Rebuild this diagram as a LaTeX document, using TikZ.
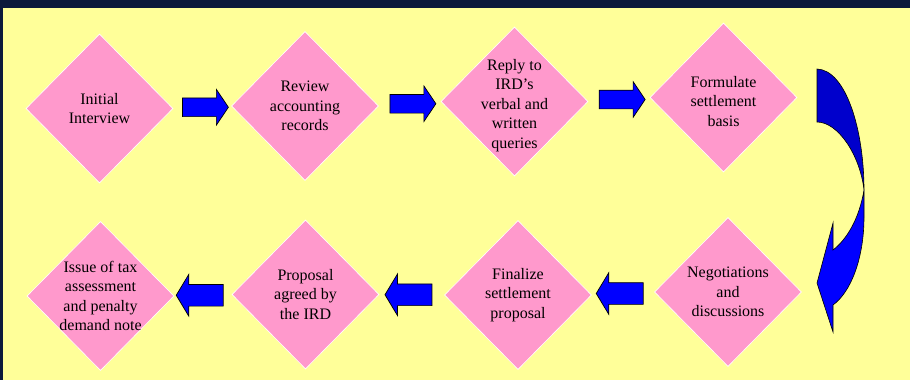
\documentclass[tikz,border=0pt]{standalone}
\usepackage{fontspec}
\setmainfont{Liberation Serif}
\usetikzlibrary{calc,shapes.geometric,shapes.arrows}
\definecolor{pagenavy}{HTML}{0C1A3B}
\definecolor{slideyellow}{HTML}{FFFF99}
\definecolor{stagepink}{HTML}{FF99CC}
\definecolor{flowblue}{HTML}{0000FF}
\definecolor{flowdark}{HTML}{0000CC}
\tikzset{
  stage/.style={diamond, fill=stagepink, draw=white, line width=0.6pt, inner sep=0pt, minimum width=147pt, minimum height=149pt},
  stagetext/.style={align=center, font=\fontsize{16}{19.5}\selectfont, text=black},
  fwdarrow/.style={single arrow, fill=flowblue, draw=black, line width=0.7pt, inner xsep=0pt, inner ysep=9pt, minimum height=46pt, single arrow head extend=8.5pt, single arrow tip angle=112},
  backarrow/.style={fwdarrow, shape border rotate=180, inner ysep=10.5pt, minimum height=47pt, single arrow head extend=10pt, single arrow tip angle=118}
}

\begin{document}
\begin{tikzpicture}[x=1pt,y=-1pt]
                      \useasboundingbox (0,0) rectangle (910,380);
                      \fill[pagenavy] (0,0) rectangle (910,380);
                      \fill[slideyellow] (3,8) rectangle (910,380);
                      \node[stage, label={[stagetext]center:{Initial\\Interview}}] (interview) at (99.5,108.5) {};
                      \node[stage, label={[stagetext]center:{Review\\accounting\\records}}] (review) at (305,106) {};
                      \node[stage, label={[stagetext, yshift=-4pt]center:{Reply to\\IRD’s\\verbal and\\written\\queries}}] (reply) at (514.5,101.5) {};
                      \node[stage, label={[stagetext, yshift=-4pt]center:{Formulate\\settlement\\basis}}] (formulate) at (723.5,97.5) {};
                      \node[stage, label={[stagetext]center:{Negotiations\\and\\discussions}}] (negotiate) at (728,292) {};
                      \node[stage, label={[stagetext]center:{Finalize\\settlement\\proposal}}] (finalize) at (518,295) {};
                      \node[stage, label={[stagetext]center:{Proposal\\agreed by\\the IRD}}] (agreed) at (305.5,294.5) {};
                      \node[stage, label={[stagetext]center:{Issue of tax\\assessment\\and penalty\\demand note}}] (issue) at (100.5,296) {};
                      \node[fwdarrow] (a1) at ($(interview.east)!0.5!(review.west)$) {};
                      \node[fwdarrow] (a2) at ($(review.east)!0.5!(reply.west)$) {};
                      \node[fwdarrow] (a3) at ($(reply.east)!0.5!(formulate.west)$) {};
                      \node[backarrow] (a5) at ($(negotiate.west)!0.5!(finalize.east)$) {};
                      \node[backarrow] (a6) at ($(finalize.west)!0.5!(agreed.east)$) {};
                      \node[backarrow] (a7) at ($(agreed.west)!0.5!(issue.east)$) {};
                      \draw[fill=flowdark, line width=0.6pt] (817,69) .. controls (846,70) and (864,130) .. (864,190)
                            .. controls (860,155) and (838,122) .. (817,122) -- cycle;
                      \draw[fill=flowblue, line width=0.6pt] (864,190) -- (864,217) .. controls (864,258) and (851,292) .. (833,305)
                            -- (833,332) -- (817,283) -- (833,223) -- (833,250) .. controls (846,240) and (859,220) .. (864,190) -- cycle;
                  \end{tikzpicture}
\end{document}
